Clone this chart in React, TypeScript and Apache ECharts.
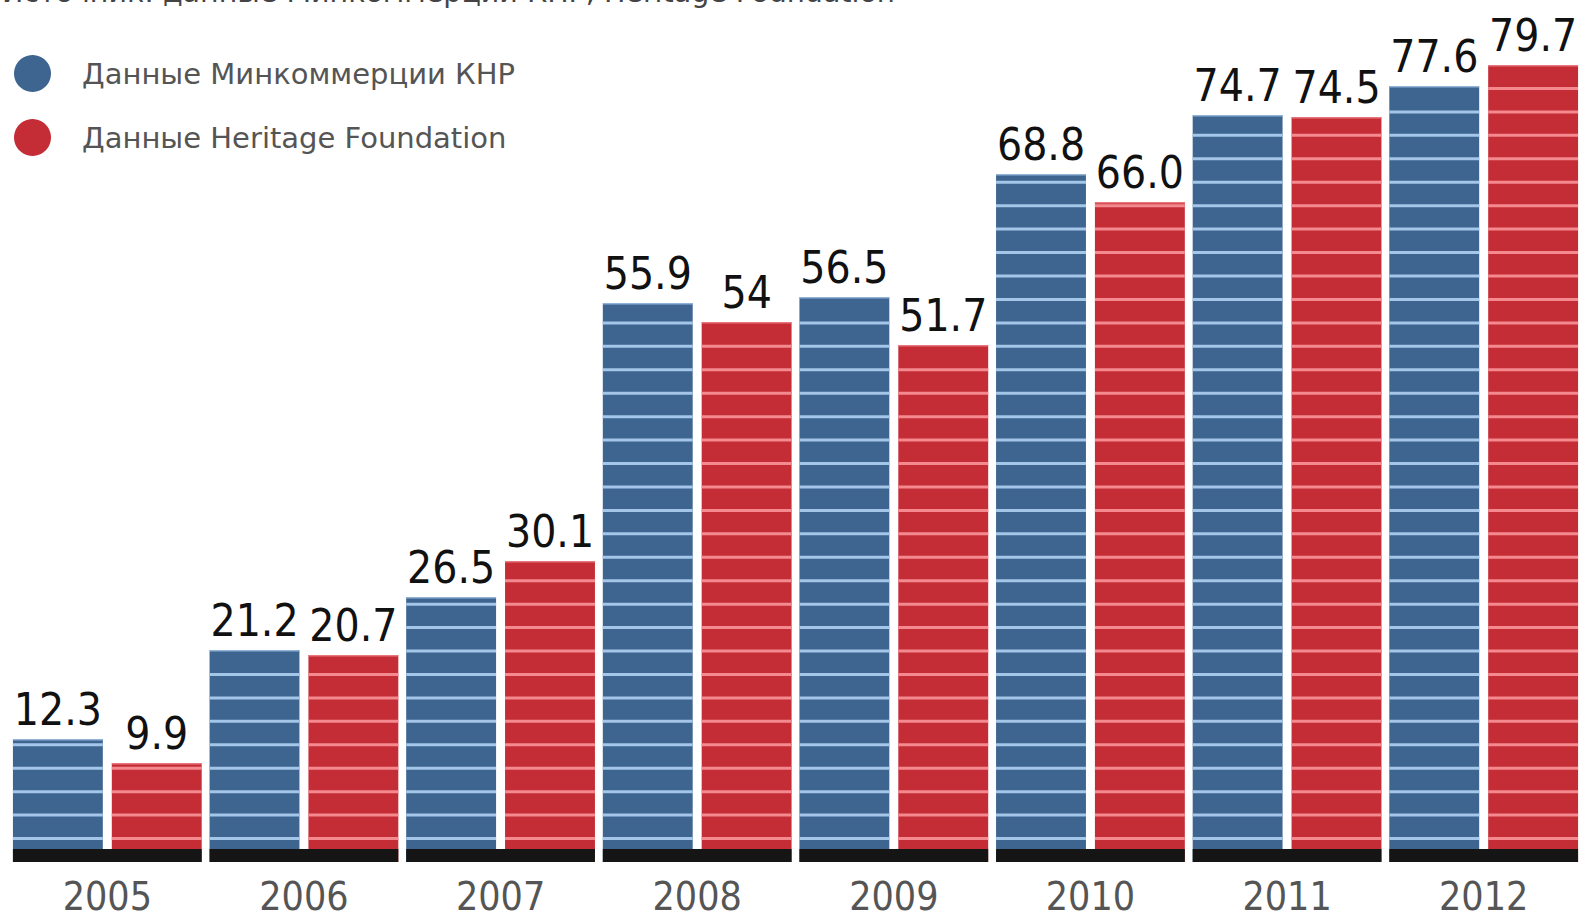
import React, { useEffect, useRef } from "react";
import * as echarts from "echarts";

const categories = ["2005", "2006", "2007", "2008", "2009", "2010", "2011", "2012"];
const mofcomValues = [12.3, 21.2, 26.5, 55.9, 56.5, 68.8, 74.7, 77.6];
const heritageValues = [9.9, 20.7, 30.1, 54, 51.7, 66.0, 74.5, 79.7];
const heritageLabels = ["9.9", "20.7", "30.1", "54", "51.7", "66.0", "74.5", "79.7"];
const seriesNames = ["Данные Минкоммерции КНР", "Данные Heritage Foundation"];
const sourceText = "Источник: данные Минкоммерции КНР, Heritage Foundation";

const BLUE = "#3e6590";
const RED = "#c42c36";
const BLUE_STRIPE = "#a4c6e8";
const RED_STRIPE = "#f48a90";
const STRIPE_STEP = 2.344; // value units between stripes
const BASE_UNITS = 1.3;
const CAT_GAP = 0.04;
const BAR_GAP = 0.1;

export default function App() {
  const ref = useRef<HTMLDivElement>(null);
  useEffect(() => {
    const chart = echarts.init(ref.current!, null, { renderer: "svg" });
    const labelFont = "'DejaVu Sans Condensed', 'Liberation Sans Narrow', 'DejaVu Sans', sans-serif";
    const option: any = {
      animation: false,
      backgroundColor: "#ffffff",
      grid: { left: 9, width: 1574, top: 62, bottom: 55 },
      legend: {
        show: true,
        data: seriesNames,
        orient: "vertical",
        left: 9,
        top: 50,
        icon: "circle",
        itemWidth: 37,
        itemHeight: 37,
        itemGap: 27,
        textStyle: {
          fontSize: 29,
          color: "#555555",
          fontFamily: "'DejaVu Sans', sans-serif",
          padding: [0, 0, 0, 26],
        },
      },
      graphic: [
        {
          type: "text",
          left: 2,
          top: -22,
          style: {
            text: sourceText,
            fontSize: 28.5,
            fill: "#444444",
            fontFamily: "'DejaVu Sans', sans-serif",
          },
        },
      ],
      xAxis: {
        type: "category",
        data: categories,
        axisLine: { show: false },
        axisTick: { show: false },
        axisLabel: {
          fontSize: 39,
          lineHeight: 36,
          margin: 16,
          color: "#555555",
          fontFamily: "'Liberation Sans Narrow', 'DejaVu Sans Condensed', sans-serif",
        },
      },
      yAxis: {
        type: "value",
        min: 0,
        max: 80,
        show: false,
        splitLine: { show: false },
      },
      series: [
        {
          name: seriesNames[0],
          type: "bar",
          data: mofcomValues,
          barGap: BAR_GAP * 100 + "%",
          barCategoryGap: CAT_GAP * 100 + "%",
          itemStyle: { color: BLUE },
          label: {
            show: true,
            position: "top",
            distance: 8,
            fontSize: 44,
            color: "#111111",
            fontFamily: labelFont,
            formatter: (p: any) => String(p.value),
          },
        },
        {
          name: seriesNames[1],
          type: "bar",
          data: heritageValues,
          barGap: BAR_GAP * 100 + "%",
          barCategoryGap: CAT_GAP * 100 + "%",
          itemStyle: { color: RED },
          label: {
            show: true,
            position: "top",
            distance: 8,
            fontSize: 44,
            color: "#111111",
            fontFamily: labelFont,
            formatter: (p: any) => heritageLabels[p.dataIndex],
          },
        },
        {
          name: "stripes",
          type: "custom",
          z: 5,
          silent: true,
          encode: { x: 0, y: 1 },
          data: categories.map((c, i) => [i, mofcomValues[i], heritageValues[i]]),
          renderItem: (params: any, api: any) => {
            const i = api.value(0);
            const vals = [api.value(1), api.value(2)];
            const [cx, y0] = api.coord([i, 0]);
            const band = api.size([1, 0])[0];
            const groupW = band * (1 - CAT_GAP);
            const barW = groupW / (2 + BAR_GAP);
            const xs = [cx - groupW / 2, cx + groupW / 2 - barW];
            const stripeColors = [BLUE_STRIPE, RED_STRIPE];
            const children: any[] = [];
            vals.forEach((v: number, s: number) => {
              const x = xs[s];
              for (let k = 1; k * STRIPE_STEP < v - 0.35; k++) {
                const y = api.coord([i, k * STRIPE_STEP])[1];
                children.push({
                  type: "rect",
                  shape: { x: x, y: y - 1.5, width: barW, height: 3 },
                  style: { fill: stripeColors[s] },
                });
              }
              const yt = api.coord([i, v])[1];
              children.push({
                type: "rect",
                shape: { x: x, y: yt, width: barW, height: 1.5 },
                style: { fill: stripeColors[s], opacity: 0.8 },
              });
            });
            const yb = api.coord([i, BASE_UNITS])[1];
            children.push({
              type: "rect",
              shape: { x: xs[0], y: yb, width: groupW, height: y0 - yb },
              style: { fill: "#151515" },
            });
            return { type: "group", children };
          },
        },
      ],
    };
    chart.setOption(option);
    return () => chart.dispose();
  }, []);
  return (
    <div
      ref={ref}
      style={{ position: "fixed", left: 0, top: 0, width: 1582, height: 917, background: "#fff" }}
    />
  );
}
